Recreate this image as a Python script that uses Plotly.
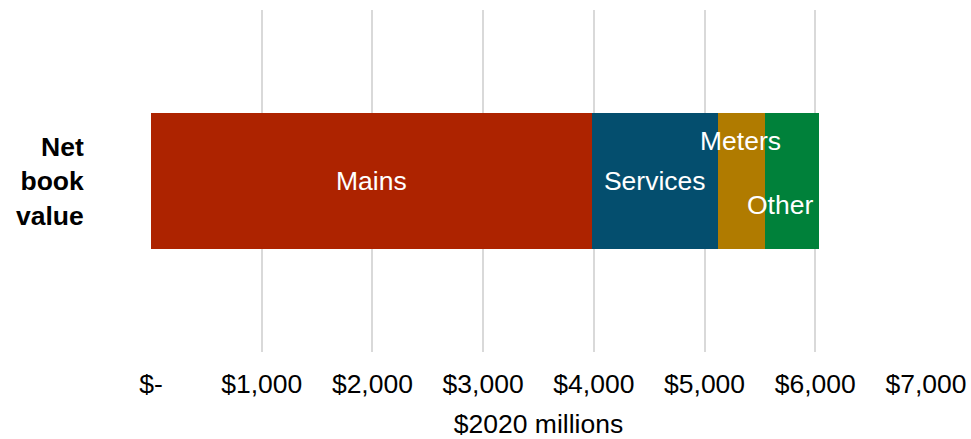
import plotly.graph_objects as go

# Net book value by asset class, $2020 millions
category = ["Net book value"]
segments = ["Mains", "Services", "Meters", "Other"]
values = [3980, 1140, 430, 480]
colors = ["#AD2300", "#044E6E", "#B07B00", "#00813A"]

tick_vals = [0, 1000, 2000, 3000, 4000, 5000, 6000, 7000]
tick_text = ["$-", "$1,000", "$2,000", "$3,000", "$4,000", "$5,000", "$6,000", "$7,000"]

FONT = "Liberation Sans, Arial, sans-serif"
FS = 26.5

fig = go.Figure()
for name, val, col in zip(segments, values, colors):
    inside = name in ("Mains", "Services")
    fig.add_trace(go.Bar(
        y=category, x=[val], name=name, orientation="h",
        marker=dict(color=col, line=dict(width=0)),
        text=[name] if inside else None,
        textposition="inside" if inside else "none",
        insidetextanchor="middle",
        textfont=dict(color="white", size=FS, family=FONT),
        width=0.4,
        hoverinfo="x+name",
    ))

# Labels for the narrow segments sit partly outside their bars
starts = [sum(values[:i]) for i in range(len(values))]
meters_mid = starts[2] + values[2] / 2
other_mid = starts[3] + values[3] / 2
fig.add_annotation(x=meters_mid, y=0.117, xref="x", yref="y", text="Meters",
                   showarrow=False, font=dict(color="white", size=FS, family=FONT),
                   xanchor="center", yanchor="middle", xshift=-1)
fig.add_annotation(x=other_mid, y=-0.07, xref="x", yref="y", text="Other",
                   showarrow=False, font=dict(color="white", size=FS, family=FONT),
                   xanchor="center", yanchor="middle", xshift=-12)

# Category label on the left
fig.add_annotation(x=0, y=0, xref="paper", yref="y", text="<b>Net<br>book<br>value</b>",
                   showarrow=False, xanchor="right", yanchor="middle", align="right",
                   xshift=-65, font=dict(color="black", size=FS, family=FONT))

fig.update_layout(
    barmode="stack",
    width=971, height=439,
    margin=dict(l=151, r=45, t=10, b=87),
    paper_bgcolor="white", plot_bgcolor="white",
    showlegend=False,
    font=dict(family=FONT, color="black"),
    xaxis=dict(
        range=[0, 7000],
        automargin=False,
        tickvals=tick_vals, ticktext=tick_text,
        tickfont=dict(size=FS, color="black", family=FONT),
        showgrid=True, gridcolor="#D9D9D9", gridwidth=2,
        zeroline=False, showline=False, ticks="",
        ticklabelstandoff=13,
        title=dict(text="$2020 millions", font=dict(size=FS, color="black", family=FONT),
                   standoff=17),
    ),
    yaxis=dict(
        range=[-0.5, 0.5],
        automargin=False,
        showticklabels=False, showgrid=False, zeroline=False, showline=False, ticks="",
    ),
)

fig.write_html("out.html")
